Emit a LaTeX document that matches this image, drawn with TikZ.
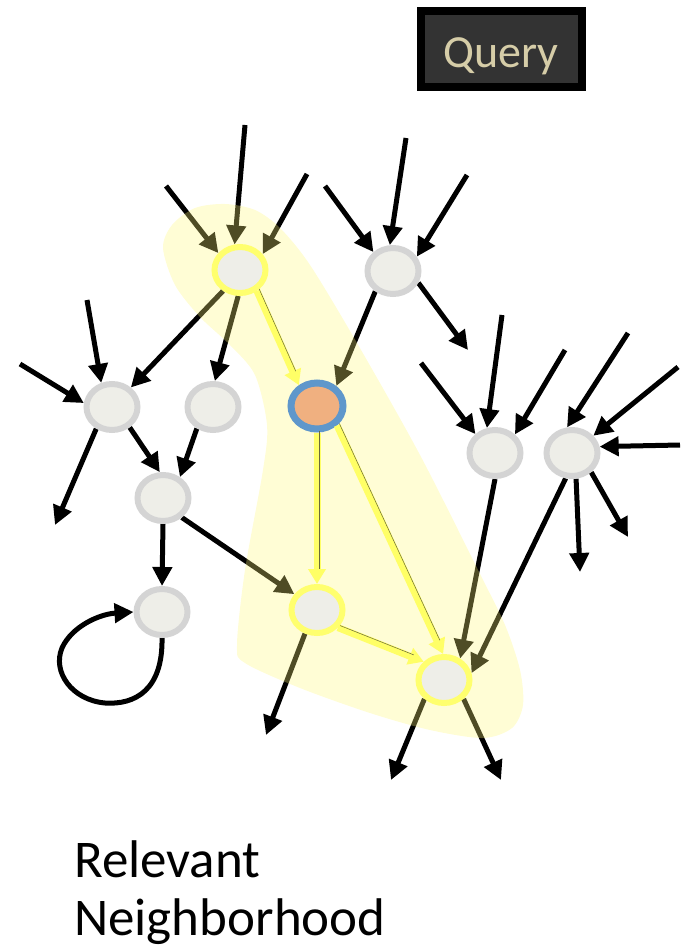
\documentclass[tikz,border=0pt]{standalone}
\usepackage{fontspec}
\setmainfont{Carlito}
\usetikzlibrary{arrows.meta,shapes.geometric}
\definecolor{nfill}{HTML}{EEEEE8}
\definecolor{ngrey}{HTML}{D4D4D4}
\definecolor{nyel}{HTML}{FFFF6E}
\definecolor{yarr}{HTML}{FFFF66}
\definecolor{qblue}{HTML}{5F97CB}
\definecolor{qorange}{HTML}{F0B080}
\definecolor{hl}{rgb}{1,0.97,0.47}
\definecolor{qtext}{HTML}{D6CDA8}
\definecolor{qbg}{HTML}{333333}
\definecolor{ydark}{HTML}{6A6A3A}
\pgfdeclarelayer{bg}
\pgfdeclarelayer{hlayer}
\pgfsetlayers{bg,hlayer,main}
\begin{document}
\begin{tikzpicture}[x=1pt,y=-1pt,
  gnode/.style={ellipse, draw=ngrey, fill=nfill, line width=6pt, minimum width=51pt, minimum height=46pt, inner sep=0pt},
  ynode/.style={gnode, draw=nyel},
  qnode/.style={gnode, draw=qblue, fill=qorange, line width=7pt, minimum width=52pt, minimum height=46pt},
  barrow/.style={draw=black, line width=5pt, -{Triangle[length=19pt,width=19pt]}},
  yarrow/.style={draw=yarr, line width=7pt, -{Triangle[length=15pt,width=17pt]}},
  yedge/.style={draw=ydark, line width=0.5pt, transform canvas={shift={(2.2pt,2pt)}}},
]
\useasboundingbox (0,0) rectangle (683,947);

% query box
\node[draw=black, line width=8pt, fill=qbg, minimum width=161pt, minimum height=76pt, inner sep=0pt] (query) at (501.5,49) {};
\node[text=qtext, font=\fontsize{46}{50}\selectfont, anchor=base, inner sep=0pt] (qlabel) at (501,68) {Query};

% nodes
\node[ynode] (A) at (240,270) {};
\node[gnode] (B) at (393,271) {};
\node[gnode] (C) at (112,407) {};
\node[gnode] (D) at (213,407) {};
\node[qnode] (Q) at (317,406) {};
\node[gnode] (E) at (163,498) {};
\node[gnode] (F) at (162,612) {};
\node[ynode] (G) at (317,610) {};
\node[ynode] (H) at (444,680) {};
\node[gnode] (I) at (495,453) {};
\node[gnode] (J) at (572,453) {};

% free ends
\coordinate (a1) at (166,186);
\coordinate (a2) at (245,125);
\coordinate (a3) at (307,174);
\coordinate (b1) at (325,186);
\coordinate (b2) at (406,138);
\coordinate (b3) at (467,175);
\coordinate (bo) at (468,350);
\coordinate (c1) at (20,364);
\coordinate (c2) at (87,300);
\coordinate (co) at (55,525);
\coordinate (go) at (266,735);
\coordinate (ho1) at (391,780);
\coordinate (ho2) at (501,780);
\coordinate (i1) at (502,315);
\coordinate (i2) at (565,350);
\coordinate (i3) at (421,363);
\coordinate (j1) at (628,333);
\coordinate (j2) at (678,367);
\coordinate (j3) at (680,445);
\coordinate (jo1) at (580,572);
\coordinate (jo2) at (628,537);

\begin{pgfonlayer}{bg}
\draw[barrow] (a1) -- (A.142);
\draw[barrow] (a2) -- (A.102);
\draw[barrow] (a3) -- (A.35);
\draw[barrow] (A.231) -- (C.46);
\draw[barrow] (A.266) -- (D.86);
\draw[barrow] (b1) -- (B.136);
\draw[barrow] (b2) -- (B.97);
\draw[barrow] (b3) -- (B.31);
\draw[barrow] (B.229) -- (Q.46);
\draw[barrow] (B.335) -- (bo);
\draw[barrow] (c1) -- (C.172);
\draw[barrow] (c2) -- (C.114);
\draw[barrow] (C.234) -- (co);
\draw[barrow] (C.311) -- (E.97);
\draw[barrow] (D.233) -- (E.51);
\draw[barrow] (E.270) -- (F.90);
\draw[barrow] (E.314) -- (G.145);
\draw[barrow] (F.270) .. controls (163,690) and (135,705) .. (105,703)
   .. controls (72,700) and (52,672) .. (62,648)
   .. controls (72,626) and (100,614) .. (F.180);
\draw[barrow] (G.243) -- (go);
\draw[barrow] (H.224) -- (ho1);
\draw[barrow] (H.316) -- (ho2);
\draw[barrow] (i1) -- (I.108);
\draw[barrow] (i2) -- (I.43);
\draw[barrow] (i3) -- (I.136);
\draw[barrow] (I.270) -- (H.53);
\draw[barrow] (J.256) -- (H.14);
\draw[barrow] (J.279) -- (jo1);
\draw[barrow] (J.315) -- (jo2);
\draw[barrow] (j1) -- (J.101);
\draw[barrow] (j2) -- (J.39);
\draw[barrow] (j3) -- (J.13);
\end{pgfonlayer}

\begin{pgfonlayer}{hlayer}
\fill[hl, opacity=0.31] plot[smooth cycle, tension=0.5] coordinates {
 (163,248) (172,225) (195,208) (225,204) (255,210) (280,228) (310,265)
 (357,343) (420,455) (478,570) (505,625) (520,670) (523,705) (512,728)
 (483,738) (430,730) (370,713) (300,688) (245,663) (237,645) (245,570)
 (263,470) (267,425) (255,375) (230,345) (200,317) (175,285)};
\end{pgfonlayer}

% highlighted arrows
\draw[yarrow] (A.309) -- (Q.131);
\draw[yedge, shorten >=13pt] (A.309) -- (Q.131);
\draw[yarrow] (Q.270) -- (G.90);
\draw[yedge, shorten >=13pt] (Q.270) -- (G.90);
\draw[yarrow] (Q.316) -- (H.92);
\draw[yedge, shorten >=13pt] (Q.316) -- (H.92);
\draw[yarrow] (G.320) -- (H.138);
\draw[yedge, shorten >=13pt] (G.320) -- (H.138);

% label
\node[anchor=base west, font=\fontsize{53}{58}\selectfont, inner sep=0pt] (rel) at (74,877) {Relevant};
\node[anchor=base west, font=\fontsize{53}{58}\selectfont, inner sep=0pt] (neigh) at (74,935) {Neighborhood};
\end{tikzpicture}
\end{document}
